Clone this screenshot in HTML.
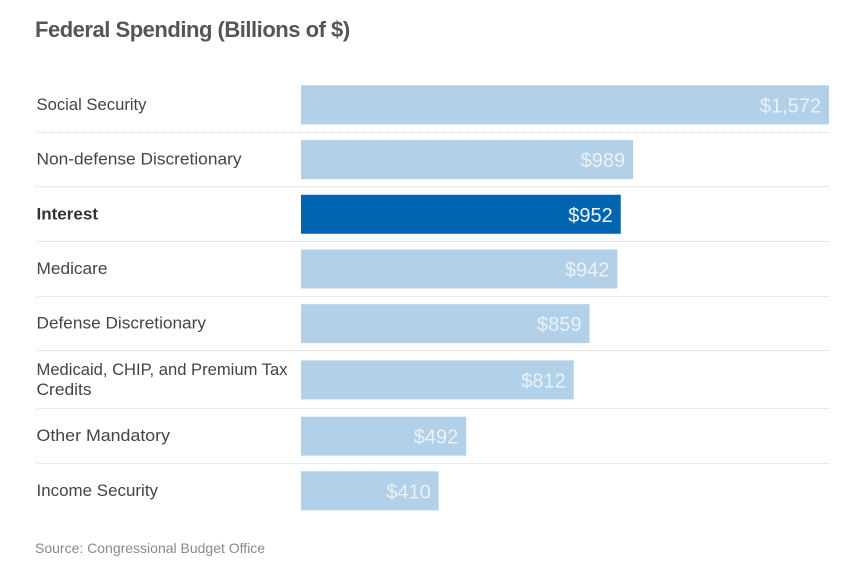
<!DOCTYPE html>
<html>
<head>
<meta charset="utf-8">
<style>
html,body{margin:0;padding:0;background:#fff;}
body{width:864px;height:567px;overflow:hidden;}
svg{display:block;font-family:"Liberation Sans",sans-serif;filter:blur(0.3px);}
</style>
</head>
<body>
<svg id="chart" width="864" height="567" viewBox="0 0 864 567" xmlns="http://www.w3.org/2000/svg">
  <text x="35" y="37" font-size="22" font-weight="700" fill="#555" letter-spacing="-0.48">Federal Spending (Billions of $)</text>
  <g id="rows"></g>
  <text x="35" y="553" font-size="14" fill="#8a8a8a" letter-spacing="0">Source: Congressional Budget Office</text>
</svg>
<script>
const categories = [["Social Security"],["Non-defense Discretionary"],["Interest"],["Medicare"],["Defense Discretionary"],["Medicaid, CHIP, and Premium Tax","Credits"],["Other Mandatory"],["Income Security"]];
const values = [1572,989,952,942,859,812,492,410];
const valueLabels = ["$1,572","$989","$952","$942","$859","$812","$492","$410"];
const highlighted = ["Interest"];

const NS = "http://www.w3.org/2000/svg";
const plotLeft = 301, plotRight = 829, labelX = 36.5, ruleLeft = 36, ruleRight = 829;
// The reference face is wider than Liberation Sans, so labels are fitted to these rendered widths.
const labelFit = {"Social Security":110,"Non-defense Discretionary":205,"Interest":61.5,"Medicare":71,"Defense Discretionary":169.5,"Medicaid, CHIP, and Premium Tax":251,"Credits":55,"Other Mandatory":133.5,"Income Security":121.5};
const maxValue = Math.max.apply(null, values);
const xScale = function (v) { return (plotRight - plotLeft) * v / maxValue; };
const rowsGroup = document.getElementById("rows");

function make(tag, attrs) {
  const el = document.createElementNS(NS, tag);
  Object.keys(attrs).forEach(function (k) { el.setAttribute(k, attrs[k]); });
  return el;
}

let rowTop = 77.5;
categories.forEach(function (lines, i) {
  const rowH = lines.length > 1 ? 57.8 : 54.7;
  const barH = 39;
  const center = rowTop + rowH / 2;
  const isHi = highlighted.indexOf(lines[0]) >= 0;

  const bar = make("rect", {x: plotLeft, y: center - barH / 2, width: xScale(values[i]), height: barH, fill: isHi ? "#0065b0" : "#b2d0e7"});
  
  
  rowsGroup.appendChild(bar);

  const val = make("text", {x: plotLeft + xScale(values[i]) - 8, y: center + 7.5, "font-size": 20, "text-anchor": "end", fill: "#fff", "fill-opacity": isHi ? 0.95 : 0.72});
  val.textContent = valueLabels[i];
  
  
  rowsGroup.appendChild(val);

  lines.forEach(function (line, j) {
    const offset = lines.length > 1 ? (j === 0 ? -10.5 : 9.5) : -0.5;
    const label = make("text", {x: labelX, y: center + offset + 5.5, "font-size": 16.5, "font-weight": isHi ? 700 : 400, fill: isHi ? "#333" : "#444", textLength: labelFit[line], lengthAdjust: "spacingAndGlyphs"});
    label.textContent = line;
    
    
    rowsGroup.appendChild(label);
  });

  if (i < categories.length - 1) {
    const ruleY = Math.floor(rowTop + rowH) + 0.5;
    const rule = make("line", {x1: ruleLeft, x2: ruleRight, y1: ruleY, y2: ruleY, stroke: "#d6d6d6", "stroke-width": 1, "stroke-dasharray": "1 1"});
    
    
    rowsGroup.appendChild(rule);
  }
  rowTop += rowH;
});
</script>
</body>
</html>
